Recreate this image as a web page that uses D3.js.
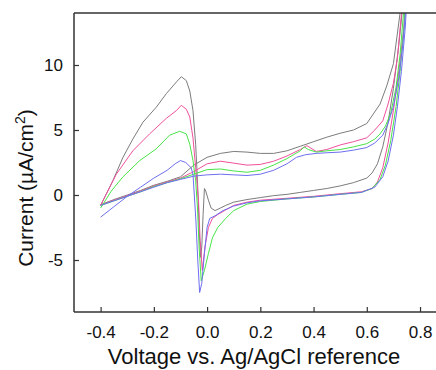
<!DOCTYPE html>
<html>
<head>
<meta charset="utf-8">
<script src="https://cdn.jsdelivr.net/npm/d3@7"></script>
<style>
  body { margin: 0; background: #fff; }
  svg { display: block; font-family: "Liberation Sans", Arial, sans-serif; }
</style>
</head>
<body>
<div id="chart"></div>
<script>
// cyclic voltammograms, [voltage, current] in scan order
const grayLoop = [
  [-0.4, -0.75], [-0.35, -0.35], [-0.3, 0.0], [-0.25, 0.35], [-0.2, 0.75], [-0.15, 1.05],
  [-0.1, 1.4], [-0.05, 2.3], [0.0, 2.9], [0.05, 3.2], [0.1, 3.35], [0.15, 3.3], [0.2, 3.2],
  [0.25, 3.2], [0.3, 3.4], [0.35, 3.75], [0.4, 4.1], [0.45, 4.45], [0.5, 4.75], [0.55, 5.0],
  [0.6, 5.5], [0.65, 7.0], [0.675, 8.4], [0.7, 10.1], [0.725, 14.0], [0.74, 16.5],
  [0.735, 14.5], [0.72, 11.5], [0.7, 8.2], [0.68, 5.6], [0.66, 3.7], [0.64, 2.4], [0.62, 1.7],
  [0.6, 1.3], [0.55, 0.95], [0.5, 0.7], [0.45, 0.5], [0.4, 0.35], [0.35, 0.2], [0.3, 0.05],
  [0.25, -0.05], [0.2, -0.2], [0.15, -0.35], [0.1, -0.55], [0.07, -0.8], [0.05, -1.0],
  [0.03, -1.2], [0.015, -1.0], [0.005, -0.4], [-0.005, 0.3], [-0.01, 0.5], [-0.015, -1.5],
  [-0.02, -4.0], [-0.024, -4.8], [-0.029, -3.0], [-0.034, 0.0], [-0.038, 1.9], [-0.043, 3.9],
  [-0.053, 6.5], [-0.065, 8.0], [-0.078, 8.8], [-0.097, 9.1], [-0.115, 8.7], [-0.153, 7.8],
  [-0.191, 6.75], [-0.241, 5.6], [-0.279, 4.3], [-0.316, 2.9], [-0.354, 1.1], [-0.4, -0.8]
];
const pinkLoop = [
  [-0.4, -0.75], [-0.35, -0.4], [-0.3, -0.05], [-0.25, 0.3], [-0.2, 0.7], [-0.15, 1.0],
  [-0.1, 1.3], [-0.05, 1.8], [0.0, 2.4], [0.05, 2.6], [0.1, 2.45], [0.15, 2.3], [0.2, 2.35],
  [0.25, 2.6], [0.3, 3.0], [0.35, 3.5], [0.375, 3.8], [0.39, 3.6], [0.41, 3.35], [0.45, 3.5],
  [0.5, 3.85], [0.55, 4.1], [0.6, 4.4], [0.63, 5.0], [0.66, 5.7], [0.68, 7.0], [0.7, 8.6],
  [0.715, 10.5], [0.73, 13.9], [0.745, 17.0],
  [0.74, 13.0], [0.72, 9.5], [0.7, 6.5], [0.68, 4.0], [0.66, 2.1], [0.64, 1.0], [0.62, 0.5],
  [0.58, 0.25], [0.5, 0.1], [0.4, -0.1], [0.3, -0.25], [0.2, -0.4], [0.15, -0.55], [0.1, -0.8],
  [0.07, -1.15], [0.04, -1.5], [0.02, -1.8], [0.005, -2.5], [-0.008, -4.0], [-0.018, -5.8],
  [-0.026, -3.5], [-0.032, -0.5], [-0.038, 1.0], [-0.043, 2.1], [-0.053, 4.4], [-0.065, 6.0],
  [-0.078, 6.6], [-0.097, 6.9], [-0.115, 6.5], [-0.153, 5.9], [-0.216, 4.7], [-0.279, 3.4],
  [-0.341, 1.6], [-0.4, -0.8]
];
const greenLoop = [
  [-0.4, -0.8], [-0.35, -0.45], [-0.3, -0.1], [-0.25, 0.25], [-0.2, 0.65], [-0.15, 0.95],
  [-0.1, 1.25], [-0.05, 1.6], [0.0, 1.95], [0.05, 2.0], [0.1, 1.85], [0.15, 1.75], [0.2, 1.9],
  [0.25, 2.3], [0.3, 2.8], [0.35, 3.4], [0.365, 3.7], [0.38, 3.5], [0.41, 3.3], [0.45, 3.4],
  [0.5, 3.5], [0.55, 3.7], [0.6, 3.95], [0.63, 4.3], [0.65, 4.7], [0.67, 5.3], [0.69, 6.3],
  [0.71, 8.3], [0.725, 10.8], [0.738, 14.0], [0.75, 17.0],
  [0.74, 13.0], [0.725, 9.5], [0.71, 6.8], [0.69, 4.2], [0.67, 2.3], [0.65, 1.2], [0.62, 0.5],
  [0.58, 0.2], [0.5, 0.05], [0.4, -0.15], [0.3, -0.3], [0.2, -0.5], [0.15, -0.7], [0.1, -1.2],
  [0.07, -1.8], [0.04, -2.5], [0.02, -3.3], [0.005, -4.5], [-0.01, -5.8], [-0.022, -6.6],
  [-0.03, -4.0], [-0.036, -1.0], [-0.043, 1.1], [-0.053, 2.65], [-0.065, 3.9], [-0.078, 4.7],
  [-0.103, 4.9], [-0.141, 4.6], [-0.191, 3.55], [-0.253, 2.65], [-0.316, 1.4], [-0.36, 0.3],
  [-0.4, -1.0]
];
const blueLoop = [
  [-0.4, -0.8], [-0.35, -0.45], [-0.3, -0.1], [-0.25, 0.25], [-0.2, 0.6], [-0.15, 0.95],
  [-0.1, 1.2], [-0.05, 1.45], [0.0, 1.55], [0.05, 1.6], [0.1, 1.55], [0.15, 1.5], [0.2, 1.6],
  [0.25, 1.9], [0.3, 2.4], [0.336, 2.9], [0.37, 3.1], [0.41, 3.2], [0.45, 3.25], [0.5, 3.3],
  [0.55, 3.45], [0.6, 3.65], [0.63, 4.0], [0.66, 4.6], [0.68, 5.5], [0.7, 6.8], [0.72, 9.0],
  [0.735, 11.5], [0.745, 14.0], [0.755, 17.0],
  [0.745, 13.0], [0.73, 9.5], [0.715, 6.8], [0.7, 4.6], [0.68, 2.6], [0.66, 1.4], [0.63, 0.6],
  [0.58, 0.2], [0.5, 0.05], [0.4, -0.15], [0.3, -0.3], [0.2, -0.45], [0.15, -0.6], [0.1, -0.85],
  [0.06, -1.2], [0.03, -1.6], [0.01, -1.8], [0.0, -2.5], [-0.01, -4.5], [-0.02, -6.8],
  [-0.028, -7.5], [-0.035, -5.0], [-0.042, -2.0], [-0.048, 0.0], [-0.053, 1.6], [-0.06, 2.1],
  [-0.08, 2.5], [-0.1, 2.65], [-0.12, 2.4], [-0.15, 1.9], [-0.2, 1.3], [-0.25, 0.6],
  [-0.3, -0.1], [-0.35, -0.9], [-0.4, -1.7]
];

const seriesNames = ['gray', 'pink', 'green', 'blue'];
const seriesColors = ['#7c7c7c', '#f0509c', '#48e448', '#6e6ef0'];
const seriesData = [grayLoop, pinkLoop, greenLoop, blueLoop];

const xTicks = [-0.4, -0.2, 0.0, 0.2, 0.4, 0.6, 0.8];
const xMinorTicks = [-0.5, -0.3, -0.1, 0.1, 0.3, 0.5, 0.7];
const yTicks = [-5, 0, 5, 10];
const yMinorTicks = d3.range(-9, 15).filter(v => v % 5 !== 0);

const width = 436;
const height = 370;
const margin = {top: 13, right: 0, bottom: 58, left: 74};

const svg = d3.select('#chart')
              .append('svg')
              .attr('width', width)
              .attr('height', height);

const scaleX = d3.scaleLinear()
                 .domain([-0.5, 0.86])
                 .range([margin.left, width - margin.right]);
const scaleY = d3.scaleLinear()
                 .domain([-9, 14])
                 .range([height - margin.bottom, margin.top]);

svg.append('clipPath')
   .attr('id', 'plotClip')
   .append('rect')
   .attr('x', margin.left)
   .attr('y', margin.top)
   .attr('width', width - margin.left - margin.right)
   .attr('height', height - margin.top - margin.bottom);

// curves
const line = d3.line()
               .x(d => scaleX(d[0]))
               .y(d => scaleY(d[1]));

svg.append('g')
   .attr('clip-path', 'url(#plotClip)')
   .selectAll('path')
   .data(seriesData)
   .enter()
   .append('path')
   .attr('class', (d, i) => 'cv ' + seriesNames[i])
   .attr('d', line)
   .attr('fill', 'none')
   .attr('stroke', (d, i) => seriesColors[i])
   .attr('stroke-width', 1)
   .attr('stroke-linejoin', 'round');

// axes, ticks pointing inward
const fmtX = v => (v < 0 ? '-' : '') + Math.abs(v).toFixed(1);
const fmtY = v => (v < 0 ? '-' : '') + Math.abs(v);

const xAxisGroup = svg.append('g')
    .attr('transform', `translate(0, ${height - margin.bottom})`);
xAxisGroup.call(d3.axisBottom(scaleX).tickValues(xMinorTicks).tickSize(-3).tickFormat(''));
xAxisGroup.call(d3.axisBottom(scaleX).tickValues(xTicks).tickSize(-5).tickPadding(14).tickFormat(fmtX));

const yAxisGroup = svg.append('g')
    .attr('transform', `translate(${margin.left}, 0)`);
yAxisGroup.call(d3.axisLeft(scaleY).tickValues(yMinorTicks).tickSize(-3).tickFormat(''));
yAxisGroup.call(d3.axisLeft(scaleY).tickValues(yTicks).tickSize(-5).tickPadding(11).tickFormat(fmtY));

svg.selectAll('.domain').remove();
svg.selectAll('.tick line').attr('stroke', '#333').attr('stroke-width', 1.2);
svg.selectAll('.tick text')
   .attr('font-size', '17px')
   .attr('fill', '#111')
   .attr('font-family', '"Liberation Sans", Arial, sans-serif');

// frame: left, bottom and top lines
const frame = svg.append('g')
                 .attr('stroke', '#333')
                 .attr('stroke-width', 1.5);
frame.append('line')
     .attr('x1', margin.left).attr('x2', margin.left)
     .attr('y1', margin.top).attr('y2', height - margin.bottom);
frame.append('line')
     .attr('x1', margin.left).attr('x2', width)
     .attr('y1', height - margin.bottom).attr('y2', height - margin.bottom);
frame.append('line')
     .attr('x1', margin.left).attr('x2', width)
     .attr('y1', margin.top).attr('y2', margin.top);

// axis titles
svg.append('text')
   .attr('x', 254)
   .attr('y', 364)
   .attr('text-anchor', 'middle')
   .attr('font-size', '22px')
   .attr('fill', '#111')
   .text('Voltage vs. Ag/AgCl reference');

const yTitle = svg.append('text')
   .attr('transform', 'translate(33, 188) rotate(-90)')
   .attr('text-anchor', 'middle')
   .attr('font-size', '21px')
   .attr('fill', '#111');
yTitle.append('tspan').text('Current (\u00b5A/cm');
yTitle.append('tspan').attr('baseline-shift', 'super').attr('font-size', '14px').text('2');
yTitle.append('tspan').text(')');
</script>
</body>
</html>
